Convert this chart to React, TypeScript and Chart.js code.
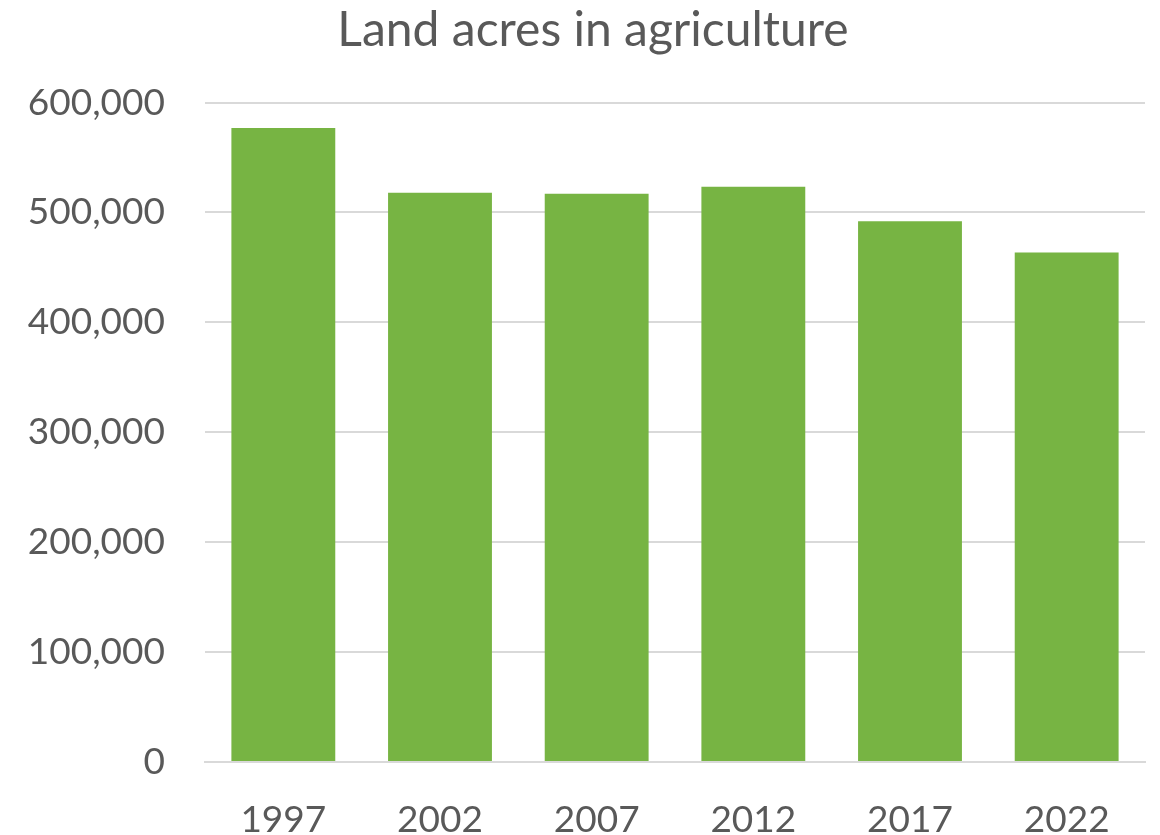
import React, { useEffect, useRef } from "react";
import { Chart, registerables } from "chart.js";

Chart.register(...registerables);

const categories = ["1997", "2002", "2007", "2012", "2017", "2022"];
const acres = [577000, 518000, 517000, 523500, 492000, 463500];
const yTicks = [0, 100000, 200000, 300000, 400000, 500000, 600000];
const titleText = "Land acres in agriculture";

const shiftTitle = {
  id: "shiftTitle",
  afterLayout(chart: any) {
    if (chart.titleBlock) {
      chart.titleBlock.left += 41;
    }
  },
};

export default function App() {
  const ref = useRef<HTMLCanvasElement | null>(null);

  useEffect(() => {
    document.body.style.margin = "0";
    const canvas = ref.current;
    if (!canvas) return;
    const chart = new Chart(canvas, {
      type: "bar",
      data: {
        labels: categories,
        datasets: [
          {
            data: acres,
            backgroundColor: "#77B443",
            categoryPercentage: 1,
            barPercentage: 0.663,
          },
        ],
      },
      plugins: [shiftTitle],
      options: {
        animation: false,
        responsive: false,
        maintainAspectRatio: false,
        layout: { padding: { left: 0, right: 15, top: 0, bottom: 0 } },
        plugins: {
          legend: { display: false },
          tooltip: { enabled: false },
          title: {
            display: true,
            text: titleText,
            color: "#595959",
            font: { family: "Lato", size: 48, weight: "normal" },
            padding: { top: 2, bottom: 43 },
          },
        },
        scales: {
          x: {
            grid: { display: false },
            border: { display: true, color: "#D9D9D9", width: 2 },
            ticks: {
              color: "#595959",
              font: { family: "Lato", size: 37 },
              padding: 28,
            },
            afterFit: (scale: any) => {
              scale.height = 98;
            },
          },
          y: {
            min: 0,
            max: 600000,
            afterBuildTicks: (scale: any) => {
              scale.ticks = yTicks.map((v) => ({ value: v }));
            },
            grid: { color: "#D9D9D9", lineWidth: 2, drawTicks: false },
            border: { display: false },
            ticks: {
              color: "#595959",
              font: { family: "Lato", size: 37 },
              padding: 40,
              callback: (v: any) => Number(v).toLocaleString("en-US"),
            },
            afterFit: (scale: any) => {
              scale.width = 205;
            },
          },
        },
      },
    });
    return () => chart.destroy();
  }, []);

  return (
    <div style={{ width: 1160, height: 835, overflow: "hidden" }}>
      <canvas ref={ref} width={1160} height={860} style={{ display: "block" }} />
    </div>
  );
}
